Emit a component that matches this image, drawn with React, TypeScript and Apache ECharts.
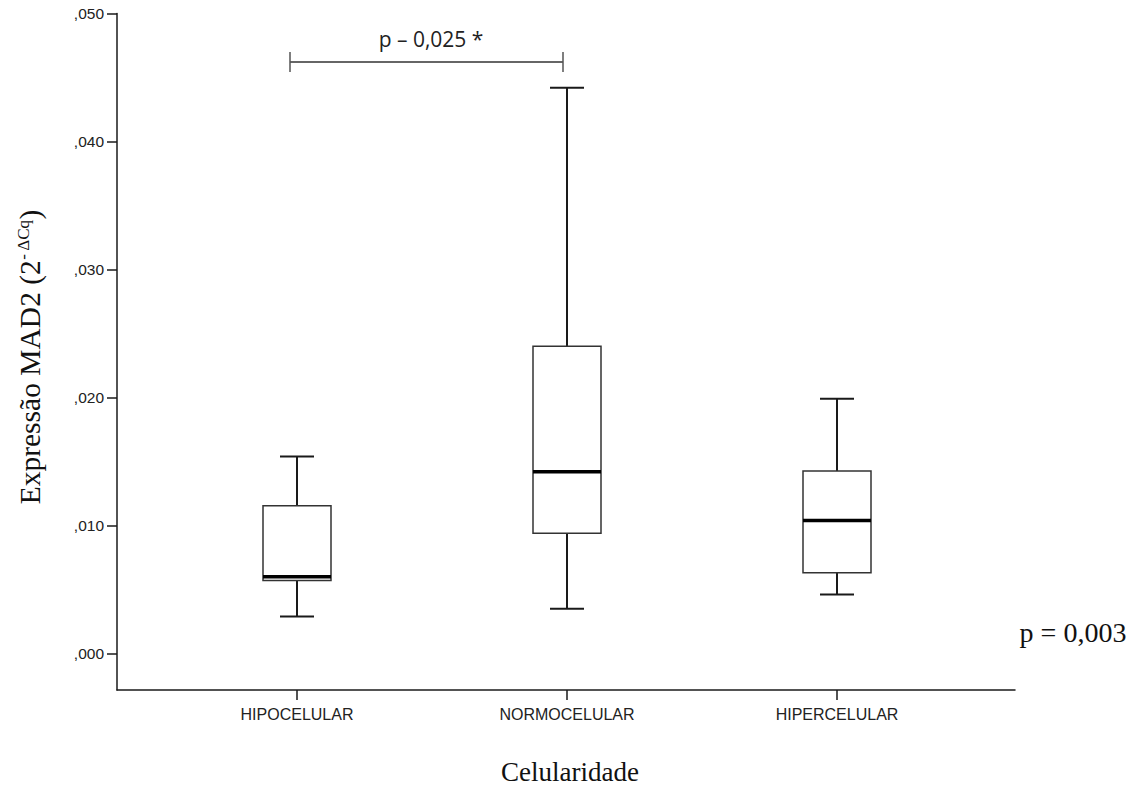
import React, { useEffect, useRef } from "react";
import * as echarts from "echarts";

const categories = ["HIPOCELULAR", "NORMOCELULAR", "HIPERCELULAR"];
const whiskerLow = [0.0029, 0.0035, 0.0046];
const quartile1 = [0.0057, 0.0094, 0.0063];
const medians = [0.006, 0.0142, 0.0104];
const quartile3 = [0.01155, 0.024, 0.01426];
const whiskerHigh = [0.0154, 0.0442, 0.0199];
const yTicks = [0, 0.01, 0.02, 0.03, 0.04, 0.05];

const INK = "#1a1a1a";

export default function App() {
  const ref = useRef<HTMLDivElement>(null);
  useEffect(() => {
    if (!ref.current) return;
    const chart = echarts.init(ref.current, undefined, { renderer: "svg" });
    const data = categories.map((_, i) => [
      i,
      whiskerLow[i],
      quartile1[i],
      medians[i],
      quartile3[i],
      whiskerHigh[i],
    ]);
    const boxHalf = 34;
    const capHalf = 17;
    const hiddenValueAxis = (gridIndex: number, showLine: boolean) => ({
      type: "value",
      gridIndex,
      min: 0,
      max: 1,
      show: showLine,
      axisLine: { show: showLine, lineStyle: { color: INK, width: 1.5 } },
      axisTick: { show: false },
      axisLabel: { show: false },
      splitLine: { show: false },
    });
    chart.setOption({
      animation: false,
      backgroundColor: "#ffffff",
      grid: [
        { left: 162, top: 13.5, width: 810, height: 640 },
        { left: 117, top: 13.5, width: 898, height: 676.5 },
        { left: 162, top: 13.5, width: 810, height: 676.5 },
      ],
      xAxis: [
        {
          type: "category",
          gridIndex: 0,
          data: categories,
          show: false,
        },
        hiddenValueAxis(1, true),
        {
          type: "category",
          gridIndex: 2,
          data: categories,
          axisLine: { show: false },
          axisTick: { show: true, alignWithLabel: true, length: 10, lineStyle: { color: INK, width: 1.5 } },
          axisLabel: { color: "#222", fontFamily: "Liberation Sans", fontSize: 16, margin: 16 },
          splitLine: { show: false },
        },
      ],
      yAxis: [
        {
          type: "value",
          gridIndex: 0,
          min: 0,
          max: 0.05,
          interval: 0.01,
          offset: 45,
          axisLine: { show: false },
          axisTick: { show: true, length: 10, lineStyle: { color: INK, width: 1.5 } },
          axisLabel: {
            color: "#222",
            fontFamily: "Liberation Sans",
            fontSize: 15.5,
            margin: 13,
            formatter: (v: number) => {
              const t = yTicks.find((x) => Math.abs(x - v) < 1e-9);
              const val = t === undefined ? v : t;
              return "," + val.toFixed(3).split(".")[1];
            },
          },
          splitLine: { show: false },
        },
        hiddenValueAxis(1, true),
        hiddenValueAxis(2, false),
      ],
      series: [
        {
          type: "custom",
          xAxisIndex: 0,
          yAxisIndex: 0,
          data,
          renderItem: (params: any, api: any) => {
            const idx = api.value(0);
            const pLow = api.coord([idx, api.value(1)]);
            const pQ1 = api.coord([idx, api.value(2)]);
            const pMed = api.coord([idx, api.value(3)]);
            const pQ3 = api.coord([idx, api.value(4)]);
            const pHigh = api.coord([idx, api.value(5)]);
            const x = pMed[0];
            const lineStyle = { stroke: INK, lineWidth: 2, fill: "none" };
            return {
              type: "group",
              children: [
                { type: "line", shape: { x1: x, y1: pQ3[1], x2: x, y2: pHigh[1] }, style: lineStyle },
                { type: "line", shape: { x1: x, y1: pQ1[1], x2: x, y2: pLow[1] }, style: lineStyle },
                { type: "line", shape: { x1: x - capHalf, y1: pHigh[1], x2: x + capHalf, y2: pHigh[1] }, style: lineStyle },
                { type: "line", shape: { x1: x - capHalf, y1: pLow[1], x2: x + capHalf, y2: pLow[1] }, style: lineStyle },
                {
                  type: "rect",
                  shape: { x: x - boxHalf, y: pQ3[1], width: boxHalf * 2, height: pQ1[1] - pQ3[1] },
                  style: { stroke: "#333", lineWidth: 1.5, fill: "#ffffff" },
                },
                {
                  type: "line",
                  shape: { x1: x - boxHalf, y1: pMed[1], x2: x + boxHalf, y2: pMed[1] },
                  style: { stroke: "#000", lineWidth: 3.5 },
                },
              ],
            };
          },
        },
      ],
      graphic: [
        {
          type: "text",
          x: 30,
          y: 357,
          rotation: Math.PI / 2,
          style: {
            text: "Expressão MAD2 (2{sup|- ΔCq})",
            fontFamily: "Liberation Serif",
            fontSize: 29.5,
            fill: "#111",
            align: "center",
            verticalAlign: "middle",
            rich: {
              sup: { fontFamily: "Liberation Serif", fontSize: 17, fill: "#111", verticalAlign: "top", padding: [0, 0, 13, 0] },
            },
          },
        },
        {
          type: "text",
          x: 570,
          y: 772,
          style: {
            text: "Celularidade",
            fontFamily: "Liberation Serif",
            fontSize: 27,
            fill: "#111",
            align: "center",
            verticalAlign: "middle",
          },
        },
        {
          type: "text",
          x: 1073,
          y: 632,
          style: {
            text: "p = 0,003",
            fontFamily: "Liberation Serif",
            fontSize: 28,
            fill: "#111",
            align: "center",
            verticalAlign: "middle",
          },
        },
        {
          type: "line",
          shape: { x1: 290, y1: 62, x2: 563, y2: 62 },
          style: { stroke: "#333", lineWidth: 1.3 },
        },
        {
          type: "line",
          shape: { x1: 290, y1: 52, x2: 290, y2: 72 },
          style: { stroke: "#555", lineWidth: 1.5 },
        },
        {
          type: "line",
          shape: { x1: 563, y1: 52, x2: 563, y2: 72 },
          style: { stroke: "#555", lineWidth: 1.5 },
        },
        {
          type: "text",
          x: 431,
          y: 39,
          style: {
            text: "p – 0,025 *",
            fontFamily: "Open Sans",
            fontSize: 21,
            fill: "#222",
            align: "center",
            verticalAlign: "middle",
          },
        },
      ],
    });
    return () => chart.dispose();
  }, []);
  return (
    <div
      ref={ref}
      style={{ position: "fixed", left: 0, top: 0, width: 1143, height: 787, background: "#fff" }}
    />
  );
}
